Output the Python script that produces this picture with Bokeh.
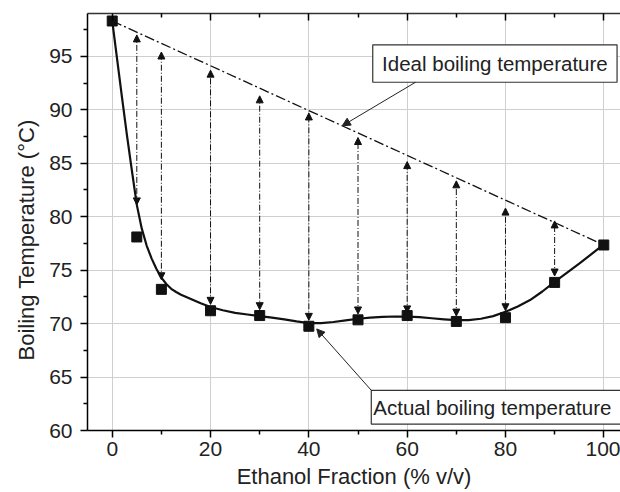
from bokeh.plotting import figure
from bokeh.models import (Range1d, LinearAxis, Arrow, NormalHead, ColumnDataSource,
                          FixedTicker, Title)
from bokeh.embed import file_html
from bokeh.resources import INLINE
from bokeh.core.properties import value

# ---------------- data ----------------
ethanol = [0, 5, 10, 20, 30, 40, 50, 60, 70, 80, 90, 100]
boiling = [98.3, 78.1, 73.2, 71.2, 70.75, 69.75, 70.35, 70.75, 70.2, 70.55, 73.85, 77.35]

# smooth fitted curve
curve_x = [0, 1, 2, 3, 4, 5, 6, 7, 8, 9, 10, 11, 12, 13, 14, 16, 18, 20, 22.5, 25,
           27.5, 30, 32.5, 35, 37.5, 40, 42.5, 45, 47.5, 50, 52.5, 55, 57.5, 60, 62.5,
           65, 67.5, 70, 72.5, 75, 77.5, 80, 82.5, 85, 87.5, 90, 95, 100]
curve_y = [98.3, 94.7, 91.1, 87.6, 84.3, 81.1, 78.9, 77.3, 76.1, 75.1, 74.3, 73.7,
           73.25, 72.95, 72.7, 72.3, 71.9, 71.55, 71.25, 71.0, 70.85, 70.7, 70.55, 70.4,
           70.2, 70.05, 70.05, 70.15, 70.3, 70.45, 70.55, 70.62, 70.66, 70.65, 70.6,
           70.5, 70.4, 70.32, 70.33, 70.45, 70.7, 71.1, 71.6, 72.2, 73.0, 73.9, 75.6, 77.4]

# ideal boiling temperature line
ideal_x = [0, 100]
ideal_y = [98.3, 77.35]

# double arrows between actual and ideal
arrow_x = [5, 10, 20, 30, 40, 50, 60, 70, 80, 90]
arrow_top = [97.0, 95.4, 93.7, 91.3, 89.7, 87.4, 85.15, 83.35, 80.8, 79.6]
arrow_bottom = [81.1, 74.1, 71.8, 71.3, 70.3, 70.9, 71.0, 70.7, 71.2, 74.45]

x_ticks = [0, 20, 40, 60, 80, 100]
x_minor = [10, 30, 50, 70, 90]
y_ticks = [60, 65, 70, 75, 80, 85, 90, 95]
y_minor = [62.5, 67.5, 72.5, 77.5, 82.5, 87.5, 92.5, 97.5]

FONT = "Liberation Sans"
TXT = "#222222"

p = figure(width=620, height=492, output_backend="svg", toolbar_location=None,
           x_range=Range1d(-5.03, 103.4), y_range=Range1d(60, 99.0),
           min_border_left=87, min_border_right=0, min_border_top=13, min_border_bottom=62)
p.outline_line_color = None
p.background_fill_color = "white"
p.border_fill_color = "white"

xt = FixedTicker(ticks=x_ticks, minor_ticks=x_minor)
yt = FixedTicker(ticks=y_ticks, minor_ticks=y_minor)
p.xaxis.ticker = xt
p.yaxis.ticker = yt
p.xgrid.ticker = xt
p.ygrid.ticker = yt
for g in (p.xgrid, p.ygrid):
    g.grid_line_color = "#cfcfcf"
    g.grid_line_width = 1

for ax in (p.xaxis[0], p.yaxis[0]):
    ax.axis_line_color = "black"
    ax.axis_line_width = 1.5
    ax.major_tick_line_color = "black"
    ax.minor_tick_line_color = "black"
    ax.major_tick_line_width = 1.5
    ax.minor_tick_line_width = 1.5
    ax.major_tick_in = 0
    ax.major_tick_out = 7
    ax.minor_tick_in = 0
    ax.minor_tick_out = 4
    ax.major_label_text_font = FONT
    ax.major_label_text_font_size = "21px"
    ax.major_label_text_color = TXT
p.yaxis.major_label_standoff = 8
p.xaxis.major_label_standoff = 4

p.xaxis.axis_label = "Ethanol Fraction (% v/v)"
p.xaxis.axis_label_text_font = FONT
p.xaxis.axis_label_text_font_size = "22px"
p.xaxis.axis_label_text_font_style = "normal"
p.xaxis.axis_label_text_color = TXT
p.xaxis.axis_label_standoff = 5

top = LinearAxis(ticker=xt)
top.axis_line_color = "#333333"
top.axis_line_width = 1.5
top.major_tick_in = 7
top.major_tick_out = 0
top.minor_tick_in = 4
top.minor_tick_out = 0
top.major_tick_line_width = 1.5
top.minor_tick_line_width = 1.5
top.major_label_overrides = {t: "" for t in x_ticks}
top.major_label_text_font_size = "10px"
top.major_label_standoff = 0
p.add_layout(top, "above")

ytitle = Title(text="Boiling Temperature (°C)", align="left", offset=70, standoff=16,
               text_font=FONT, text_font_size="22px", text_font_style="normal",
               text_color=TXT)
p.add_layout(ytitle, "left")

# ideal line
p.line(ideal_x, ideal_y, line_color="#111111", line_width=1.3, line_dash="10 3 2 3")

# double arrows
src = ColumnDataSource(dict(x0=arrow_x, y0=arrow_bottom, x1=arrow_x, y1=arrow_top))
p.add_layout(Arrow(source=src, x_start="x0", y_start="y0", x_end="x1", y_end="y1",
                   line_color="#111111", line_width=1, line_dash="6 2 1 2",
                   start=NormalHead(size=7, fill_color="#111111", line_color="#111111"),
                   end=NormalHead(size=7, fill_color="#111111", line_color="#111111")))

# fitted curve and measured points
p.line(curve_x, curve_y, line_color="#111111", line_width=2.2, line_join="round")
p.scatter(ethanol, boiling, marker="square", size=10, fill_color="#111111",
          line_color="#111111")

# callout boxes
p.quad(left=[53.0], right=[102.7], bottom=[92.57], top=[96.07], fill_color="white",
       line_color="#333333", line_width=1.2)
p.text(x=[77.85], y=[94.32], text=["Ideal boiling temperature"], text_font=value(FONT),
       text_font_size="20.5px", text_color=TXT, text_align="center", text_baseline="middle")
p.add_layout(Arrow(x_start=61.7, y_start=92.57, x_end=46.8, y_end=88.5,
                   line_color="#222222", line_width=1,
                   end=NormalHead(size=8, fill_color="#222222", line_color="#222222")))

p.quad(left=[52.7], right=[110], bottom=[60.6], top=[63.76], fill_color="white",
       line_color="#333333", line_width=1.2)
p.text(x=[52.7], y=[62.18], x_offset=2, text=["Actual boiling temperature"],
       text_font=value(FONT), text_font_size="20.5px", text_color=TXT,
       text_align="left", text_baseline="middle")
p.add_layout(Arrow(x_start=52.7, y_start=63.76, x_end=41.6, y_end=69.5,
                   line_color="#222222", line_width=1,
                   end=NormalHead(size=8, fill_color="#222222", line_color="#222222")))

open("out.html", "w").write(file_html(p, INLINE))
